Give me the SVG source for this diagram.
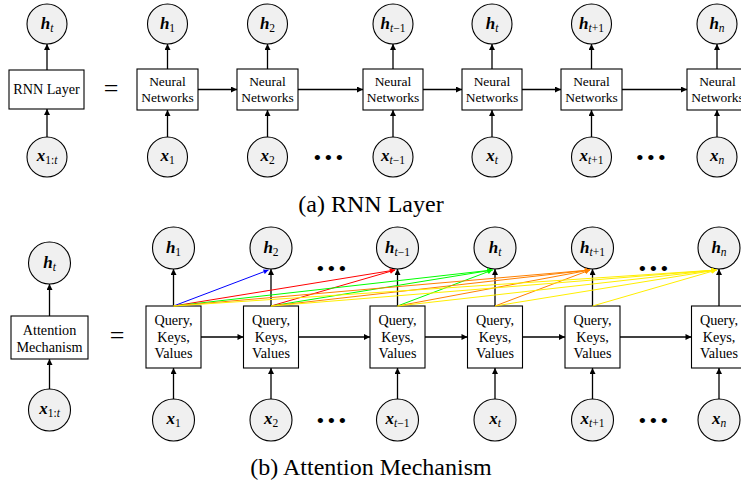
<svg xmlns="http://www.w3.org/2000/svg" width="741" height="486" viewBox="0 0 741 486">
<style>
.c{fill:#f0f0f0;stroke:#000;stroke-width:1.1}
.b{fill:#fff;stroke:#000;stroke-width:1.1}
.t{font-family:"Liberation Serif","Times New Roman",serif;font-size:13.5px;text-anchor:middle;fill:#000}
.q{font-family:"Liberation Serif","Times New Roman",serif;font-size:14.2px;text-anchor:middle;fill:#000}
.m{font-family:"Liberation Serif","Times New Roman",serif;text-anchor:middle;fill:#000}
.v{font-size:17px;font-weight:bold;font-style:italic}
.s{font-size:11.5px}
.i{font-style:italic}
.cap{font-family:"Liberation Serif","Times New Roman",serif;font-size:24px;text-anchor:middle;fill:#000}
.eq{font-family:"Liberation Serif","Times New Roman",serif;font-size:26px;text-anchor:middle;fill:#000}
.d{font-family:"Liberation Serif","Times New Roman",serif;font-size:22px;letter-spacing:3.3px;text-anchor:middle;fill:#000}
.k{stroke:#000;stroke-width:1.3;fill:none;marker-end:url(#ak)}
.a{stroke-width:1;fill:none}
</style>
<defs>
<marker id="ak" viewBox="0 0 10 10" refX="10" refY="5" markerWidth="7" markerHeight="6" markerUnits="userSpaceOnUse" orient="auto"><path d="M0,0 L10,5 L0,10 z" fill="#000"/></marker>
<marker id="ab" viewBox="0 0 10 10" refX="10" refY="5" markerWidth="6.5" markerHeight="5" markerUnits="userSpaceOnUse" orient="auto"><path d="M0,0 L10,5 L0,10 z" fill="#0000ff"/></marker>
<marker id="ar" viewBox="0 0 10 10" refX="10" refY="5" markerWidth="6.5" markerHeight="5" markerUnits="userSpaceOnUse" orient="auto"><path d="M0,0 L10,5 L0,10 z" fill="#ff0000"/></marker>
<marker id="ag" viewBox="0 0 10 10" refX="10" refY="5" markerWidth="6.5" markerHeight="5" markerUnits="userSpaceOnUse" orient="auto"><path d="M0,0 L10,5 L0,10 z" fill="#00ff00"/></marker>
<marker id="ao" viewBox="0 0 10 10" refX="10" refY="5" markerWidth="6.5" markerHeight="5" markerUnits="userSpaceOnUse" orient="auto"><path d="M0,0 L10,5 L0,10 z" fill="#ff8000"/></marker>
<marker id="ay" viewBox="0 0 10 10" refX="10" refY="5" markerWidth="6.5" markerHeight="5" markerUnits="userSpaceOnUse" orient="auto"><path d="M0,0 L10,5 L0,10 z" fill="#ffee00"/></marker>
</defs>
<rect width="741" height="486" fill="#fff"/>

<!-- ===== (a) RNN Layer ===== -->
<g id="a-ht"><circle class="c" cx="47" cy="24" r="20"/><text class="m" x="47" y="29"><tspan class="v">h</tspan><tspan class="s i" dy="3">t</tspan></text></g>
<g id="a-rnn"><rect class="b" x="9" y="70" width="75" height="39"/><text class="q" x="46.5" y="94">RNN  Layer</text></g>
<g id="a-x1t"><circle class="c" cx="47" cy="157" r="20"/><text class="m" x="47" y="161"><tspan class="v">x</tspan><tspan class="s" dy="3">1:<tspan class="i">t</tspan></tspan></text></g>
<text class="eq" x="111" y="97">=</text>

<g id="a-nn1"><rect class="b" x="137" y="69" width="61" height="41"/><text class="t" x="167.5" y="85.5">Neural</text><text class="t" x="167.5" y="101.5">Networks</text></g>
<g id="a-nn2"><rect class="b" x="237" y="69" width="61" height="41"/><text class="t" x="267.5" y="85.5">Neural</text><text class="t" x="267.5" y="101.5">Networks</text></g>
<g id="a-nn3"><rect class="b" x="363" y="69" width="60" height="41"/><text class="t" x="393" y="85.5">Neural</text><text class="t" x="393" y="101.5">Networks</text></g>
<g id="a-nn4"><rect class="b" x="462" y="69" width="60" height="41"/><text class="t" x="492" y="85.5">Neural</text><text class="t" x="492" y="101.5">Networks</text></g>
<g id="a-nn5"><rect class="b" x="561" y="69" width="61" height="41"/><text class="t" x="591.5" y="85.5">Neural</text><text class="t" x="591.5" y="101.5">Networks</text></g>
<g id="a-nn6"><rect class="b" x="687" y="69" width="61" height="41"/><text class="t" x="717.5" y="85.5">Neural</text><text class="t" x="717.5" y="101.5">Networks</text></g>

<g id="a-h1"><circle class="c" cx="167.5" cy="24" r="20"/><text class="m" x="167.5" y="29"><tspan class="v">h</tspan><tspan class="s" dy="3">1</tspan></text></g>
<g id="a-h2"><circle class="c" cx="267.5" cy="24" r="20"/><text class="m" x="267.5" y="29"><tspan class="v">h</tspan><tspan class="s" dy="3">2</tspan></text></g>
<g id="a-htm1"><circle class="c" cx="393" cy="24" r="20"/><text class="m" x="393" y="29"><tspan class="v">h</tspan><tspan class="s" dy="3"><tspan class="i">t</tspan>−1</tspan></text></g>
<g id="a-ht2"><circle class="c" cx="492" cy="24" r="20"/><text class="m" x="492" y="29"><tspan class="v">h</tspan><tspan class="s i" dy="3">t</tspan></text></g>
<g id="a-htp1"><circle class="c" cx="591.5" cy="24" r="20"/><text class="m" x="591.5" y="29"><tspan class="v">h</tspan><tspan class="s" dy="3"><tspan class="i">t</tspan>+1</tspan></text></g>
<g id="a-hn"><circle class="c" cx="717" cy="24" r="20"/><text class="m" x="717" y="29"><tspan class="v">h</tspan><tspan class="s i" dy="3">n</tspan></text></g>

<g id="a-x1"><circle class="c" cx="167.5" cy="157" r="20"/><text class="m" x="167.5" y="161"><tspan class="v">x</tspan><tspan class="s" dy="3">1</tspan></text></g>
<g id="a-x2"><circle class="c" cx="267.5" cy="157" r="20"/><text class="m" x="267.5" y="161"><tspan class="v">x</tspan><tspan class="s" dy="3">2</tspan></text></g>
<g id="a-xtm1"><circle class="c" cx="393" cy="157" r="20"/><text class="m" x="393" y="161"><tspan class="v">x</tspan><tspan class="s" dy="3"><tspan class="i">t</tspan>−1</tspan></text></g>
<g id="a-xt"><circle class="c" cx="492" cy="157" r="20"/><text class="m" x="492" y="161"><tspan class="v">x</tspan><tspan class="s i" dy="3">t</tspan></text></g>
<g id="a-xtp1"><circle class="c" cx="591.5" cy="157" r="20"/><text class="m" x="591.5" y="161"><tspan class="v">x</tspan><tspan class="s" dy="3"><tspan class="i">t</tspan>+1</tspan></text></g>
<g id="a-xn"><circle class="c" cx="717" cy="157" r="20"/><text class="m" x="717" y="161"><tspan class="v">x</tspan><tspan class="s i" dy="3">n</tspan></text></g>
<text class="d" x="330" y="164.5">•••</text>
<text class="d" x="652.5" y="164.5">•••</text>

<g id="a-connectors">
<path class="k" d="M47,70 V44"/><path class="k" d="M47,137 V109"/>
<path class="k" d="M167.5,69 V44"/><path class="k" d="M267.5,69 V44"/><path class="k" d="M393,69 V44"/><path class="k" d="M492,69 V44"/><path class="k" d="M591.5,69 V44"/><path class="k" d="M717,69 V44"/>
<path class="k" d="M167.5,137 V110"/><path class="k" d="M267.5,137 V110"/><path class="k" d="M393,137 V110"/><path class="k" d="M492,137 V110"/><path class="k" d="M591.5,137 V110"/><path class="k" d="M717,137 V110"/>
<path class="k" d="M198,89.5 H237"/><path class="k" d="M298,89.5 H363"/><path class="k" d="M423,89.5 H462"/><path class="k" d="M522,89.5 H561"/><path class="k" d="M622,89.5 H687"/>
</g>
<text class="cap" x="371" y="212">(a) RNN Layer</text>

<!-- ===== (b) Attention Mechanism ===== -->
<g id="b-ht"><circle class="c" cx="49.5" cy="263" r="21"/><text class="m" x="49.5" y="268"><tspan class="v">h</tspan><tspan class="s i" dy="3">t</tspan></text></g>
<g id="b-att"><rect class="b" x="11" y="316" width="77" height="43"/><text class="q" x="49.5" y="335">Attention</text><text class="q" x="49.5" y="351.5">Mechanism</text></g>
<g id="b-x1t"><circle class="c" cx="49.5" cy="410" r="21"/><text class="m" x="49.5" y="414"><tspan class="v">x</tspan><tspan class="s" dy="3">1:<tspan class="i">t</tspan></tspan></text></g>
<text class="eq" x="117" y="344">=</text>

<g id="b-q1"><rect class="b" x="146" y="306" width="55" height="62"/><text class="q" x="173.5" y="325">Query,</text><text class="q" x="173.5" y="341.5">Keys,</text><text class="q" x="173.5" y="358">Values</text></g>
<g id="b-q2"><rect class="b" x="243.5" y="306" width="55" height="62"/><text class="q" x="271" y="325">Query,</text><text class="q" x="271" y="341.5">Keys,</text><text class="q" x="271" y="358">Values</text></g>
<g id="b-q3"><rect class="b" x="370" y="306" width="55" height="62"/><text class="q" x="397.5" y="325">Query,</text><text class="q" x="397.5" y="341.5">Keys,</text><text class="q" x="397.5" y="358">Values</text></g>
<g id="b-q4"><rect class="b" x="467.5" y="306" width="55" height="62"/><text class="q" x="495" y="325">Query,</text><text class="q" x="495" y="341.5">Keys,</text><text class="q" x="495" y="358">Values</text></g>
<g id="b-q5"><rect class="b" x="565" y="306" width="55" height="62"/><text class="q" x="592.5" y="325">Query,</text><text class="q" x="592.5" y="341.5">Keys,</text><text class="q" x="592.5" y="358">Values</text></g>
<g id="b-q6"><rect class="b" x="691.5" y="306" width="55" height="62"/><text class="q" x="719" y="325">Query,</text><text class="q" x="719" y="341.5">Keys,</text><text class="q" x="719" y="358">Values</text></g>

<g id="b-h1"><circle class="c" cx="173.5" cy="248" r="21"/><text class="m" x="173.5" y="253"><tspan class="v">h</tspan><tspan class="s" dy="3">1</tspan></text></g>
<g id="b-h2"><circle class="c" cx="271" cy="248" r="21"/><text class="m" x="271" y="253"><tspan class="v">h</tspan><tspan class="s" dy="3">2</tspan></text></g>
<g id="b-htm1"><circle class="c" cx="397.5" cy="248" r="21"/><text class="m" x="397.5" y="253"><tspan class="v">h</tspan><tspan class="s" dy="3"><tspan class="i">t</tspan>−1</tspan></text></g>
<g id="b-ht2"><circle class="c" cx="495" cy="248" r="21"/><text class="m" x="495" y="253"><tspan class="v">h</tspan><tspan class="s i" dy="3">t</tspan></text></g>
<g id="b-htp1"><circle class="c" cx="592.5" cy="248" r="21"/><text class="m" x="592.5" y="253"><tspan class="v">h</tspan><tspan class="s" dy="3"><tspan class="i">t</tspan>+1</tspan></text></g>
<g id="b-hn"><circle class="c" cx="719" cy="248" r="21"/><text class="m" x="719" y="253"><tspan class="v">h</tspan><tspan class="s i" dy="3">n</tspan></text></g>
<text class="d" x="333" y="275.5">•••</text>
<text class="d" x="655" y="275.5">•••</text>

<g id="b-x1"><circle class="c" cx="173.5" cy="420" r="21"/><text class="m" x="173.5" y="424"><tspan class="v">x</tspan><tspan class="s" dy="3">1</tspan></text></g>
<g id="b-x2"><circle class="c" cx="271" cy="420" r="21"/><text class="m" x="271" y="424"><tspan class="v">x</tspan><tspan class="s" dy="3">2</tspan></text></g>
<g id="b-xtm1"><circle class="c" cx="397.5" cy="420" r="21"/><text class="m" x="397.5" y="424"><tspan class="v">x</tspan><tspan class="s" dy="3"><tspan class="i">t</tspan>−1</tspan></text></g>
<g id="b-xt"><circle class="c" cx="495" cy="420" r="21"/><text class="m" x="495" y="424"><tspan class="v">x</tspan><tspan class="s i" dy="3">t</tspan></text></g>
<g id="b-xtp1"><circle class="c" cx="592.5" cy="420" r="21"/><text class="m" x="592.5" y="424"><tspan class="v">x</tspan><tspan class="s" dy="3"><tspan class="i">t</tspan>+1</tspan></text></g>
<g id="b-xn"><circle class="c" cx="719" cy="420" r="21"/><text class="m" x="719" y="424"><tspan class="v">x</tspan><tspan class="s i" dy="3">n</tspan></text></g>
<text class="d" x="333" y="427.5">•••</text>
<text class="d" x="655" y="427.5">•••</text>

<g id="b-connectors">
<path class="k" d="M49.5,316 V284"/><path class="k" d="M49.5,389 V359"/>
<path class="k" d="M173.5,306 V269"/><path class="k" d="M271,306 V269"/><path class="k" d="M397.5,306 V269"/><path class="k" d="M495,306 V269"/><path class="k" d="M592.5,306 V269"/><path class="k" d="M719,306 V269"/>
<path class="k" d="M173.5,399 V368"/><path class="k" d="M271,399 V368"/><path class="k" d="M397.5,399 V368"/><path class="k" d="M495,399 V368"/><path class="k" d="M592.5,399 V368"/><path class="k" d="M719,399 V368"/>
<path class="k" d="M201,337 H243.5"/><path class="k" d="M298.5,337 H370"/><path class="k" d="M425,337 H467.5"/><path class="k" d="M522.5,337 H565"/><path class="k" d="M620,337 H691.5"/>
</g>
<g id="attention-connectors" class="a">
<path stroke="#0000ff" marker-end="url(#ab)" d="M173.5,306 L268.5,270"/>
<path stroke="#ff0000" marker-end="url(#ar)" d="M173.5,306 L395,270"/>
<path stroke="#ff0000" marker-end="url(#ar)" d="M271,306 L395,270"/>
<path stroke="#00ff00" marker-end="url(#ag)" d="M173.5,306 L492.5,270"/>
<path stroke="#00ff00" marker-end="url(#ag)" d="M271,306 L492.5,270"/>
<path stroke="#00ff00" marker-end="url(#ag)" d="M397.5,306 L492.5,270"/>
<path stroke="#ff8000" marker-end="url(#ao)" d="M173.5,306 L590,270"/>
<path stroke="#ff8000" marker-end="url(#ao)" d="M271,306 L590,270"/>
<path stroke="#ff8000" marker-end="url(#ao)" d="M397.5,306 L590,270"/>
<path stroke="#ff8000" marker-end="url(#ao)" d="M495,306 L590,270"/>
<path stroke="#ffee00" marker-end="url(#ay)" d="M173.5,306 L716.5,270"/>
<path stroke="#ffee00" marker-end="url(#ay)" d="M271,306 L716.5,270"/>
<path stroke="#ffee00" marker-end="url(#ay)" d="M397.5,306 L716.5,270"/>
<path stroke="#ffee00" marker-end="url(#ay)" d="M495,306 L716.5,270"/>
<path stroke="#ffee00" marker-end="url(#ay)" d="M592.5,306 L716.5,270"/>
</g>
<text class="cap" x="371" y="475">(b) Attention Mechanism</text>
</svg>
